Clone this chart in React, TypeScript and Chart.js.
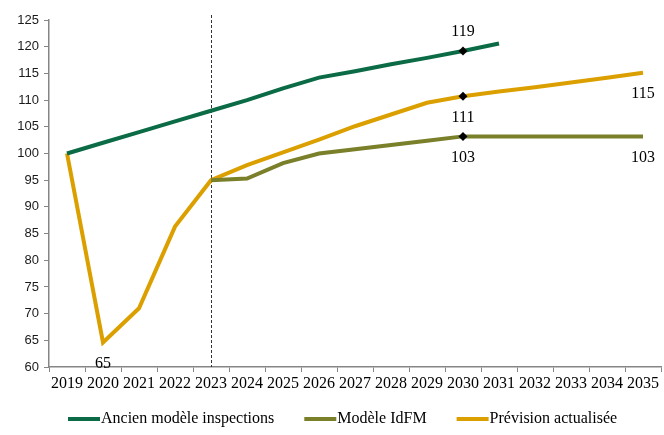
import React, { useEffect, useRef } from "react";
import { Chart, registerables } from "chart.js";

Chart.register(...registerables);

const years = ["2019","2020","2021","2022","2023","2024","2025","2026","2027","2028","2029","2030","2031","2032","2033","2034","2035"];
const ancienModele = [100, 102, 104, 106, 108, 110, 112.2, 114.2, 115.4, 116.7, 117.9, 119.2, 120.6, null, null, null, null];
const modeleIdfm = [null, null, null, null, 95, 95.3, 98.2, 100, 100.8, 101.6, 102.4, 103.2, 103.2, 103.2, 103.2, 103.2, 103.2];
const prevision = [100, 64.6, 71, 86.3, 95, 97.8, 100.2, 102.6, 105.1, 107.3, 109.5, 110.7, 111.6, 112.4, 113.3, 114.2, 115.1];
const seriesNames = ["Ancien modèle inspections", "Modèle IdFM", "Prévision actualisée"];
const seriesColors = ["#0b6b46", "#7a7f2a", "#dba000"];
// data labels: [seriesIndex, pointIndex, text, above?]
const dataLabels: [number, number, string, boolean][] = [
  [0, 11, "119", true],
  [2, 11, "111", false],
  [1, 11, "103", false],
  [2, 16, "115", false],
  [1, 16, "103", false],
  [2, 1, "65", false],
];
const markerIndex = 11;
const splitIndex = 4;

const SERIF = "'Liberation Serif', 'Times New Roman', serif";
const SANS = "'Liberation Sans', Arial, sans-serif";

export default function App() {
  const ref = useRef<HTMLCanvasElement | null>(null);
  useEffect(() => {
    if (!ref.current) return;
    const radii = years.map((_, i) => (i === markerIndex ? 4.5 : 0));
    const mk = (i: number, data: (number | null)[]) => ({
      label: seriesNames[i],
      data,
      borderColor: seriesColors[i],
      backgroundColor: seriesColors[i],
      borderWidth: 4,
      pointRadius: radii,
      pointHoverRadius: radii,
      pointStyle: "rectRot" as const,
      pointBackgroundColor: "#000",
      pointBorderColor: "#000",
      pointBorderWidth: 0,
      tension: 0,
      spanGaps: false,
    });
    const overlay = {
      id: "overlay",
      beforeDatasetsDraw(chart: any) {
        const { ctx, chartArea, scales } = chart;
        const x = Math.round(scales.x.getPixelForValue(splitIndex)) + 0.5;
        ctx.save();
        ctx.strokeStyle = "#333";
        ctx.lineWidth = 1;
        ctx.setLineDash([3, 2]);
        ctx.beginPath();
        ctx.moveTo(x, chartArea.top - 5);
        ctx.lineTo(x, chartArea.bottom);
        ctx.stroke();
        ctx.restore();
      },
      afterDraw(chart: any) {
        const { ctx } = chart;
        ctx.save();
        ctx.font = `16px ${SERIF}`;
        ctx.fillStyle = "#000";
        ctx.textAlign = "center";
        ctx.textBaseline = "middle";
        dataLabels.forEach(([s, p, t, above]) => {
          const el = chart.getDatasetMeta(s).data[p];
          if (!el) return;
          ctx.fillText(t, el.x, el.y + (above ? -19 : 21));
        });
        // legend
        const ly = 419;
        let lx = 68;
        ctx.textAlign = "left";
        seriesNames.forEach((name, i) => {
          ctx.fillStyle = seriesColors[i];
          ctx.fillRect(lx, ly - 2, 32, 4);
          lx += 33;
          ctx.fillStyle = "#000";
          ctx.fillText(name, lx, ly);
          lx += ctx.measureText(name).width + 30;
        });
        ctx.restore();
      },
    };
    const chart = new Chart(ref.current, {
      type: "line",
      data: {
        labels: years,
        datasets: [mk(0, ancienModele), mk(1, modeleIdfm), mk(2, prevision)],
      },
      options: {
        animation: false,
        responsive: true,
        maintainAspectRatio: false,
        layout: { padding: { top: 20, left: 0, right: 3, bottom: 43 } },
        plugins: { legend: { display: false }, tooltip: { enabled: false } },
        scales: {
          x: {
            offset: true,
            grid: { offset: true, drawOnChartArea: false, drawTicks: true, tickLength: 5, color: "#868686" },
            border: { color: "#868686", width: 1.5 },
            ticks: { color: "#000", font: { family: SERIF, size: 16 }, maxRotation: 0, autoSkip: false, padding: 2 },
            afterFit: (s: any) => { s.height = 25; },
          },
          y: {
            min: 60,
            max: 125,
            ticks: { stepSize: 5, color: "#1a1a1a", font: { family: SANS, size: 13 }, padding: 5 },
            grid: { drawOnChartArea: false, drawTicks: true, tickLength: 5, color: "#868686" },
            border: { color: "#868686", width: 1.5 },
            afterFit: (s: any) => { s.width = 49; },
          },
        },
      },
      plugins: [overlay],
    });
    return () => chart.destroy();
  }, []);
  return (
    <div style={{ position: "fixed", left: 0, top: 0, width: 664, height: 435, background: "#fff" }}>
      <canvas ref={ref} />
    </div>
  );
}
